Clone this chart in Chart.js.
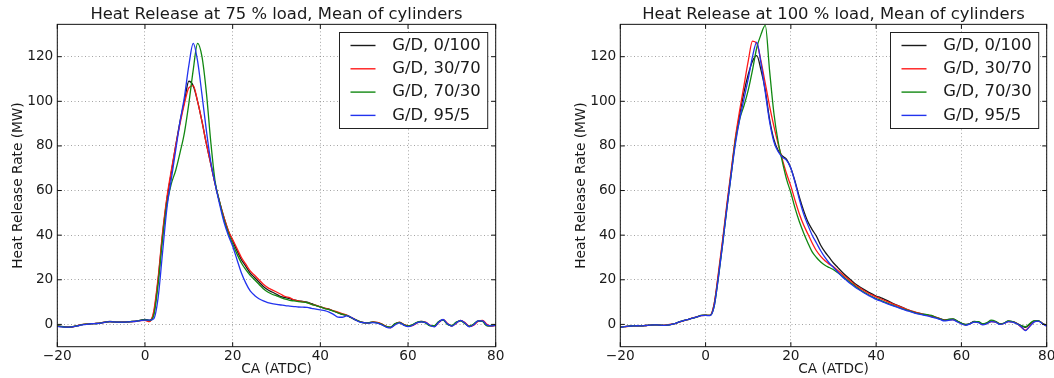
<!DOCTYPE html>
<html><head><meta charset="utf-8">
<script src="https://cdn.jsdelivr.net/npm/chart.js@4"></script>
<style>
html,body{margin:0;padding:0;background:#fff;overflow:hidden;width:1054px;height:378px;position:relative;}
.c{position:absolute;top:0;height:378px;}
#w1{left:0;width:520px;}
#w2{left:563px;width:500px;}
canvas{display:block;}
</style></head><body>
<div class="c" id="w1"><canvas id="c1" width="520" height="378"></canvas></div>
<div class="c" id="w2"><canvas id="c2" width="500" height="378"></canvas></div>
<script>
// Crank angle (degrees ATDC)
const crankAngle = [-20,-19,-18,-17,-16,-15,-14,-13,-12,-11,-10,-9,-8,-7,-6,-5,-4,-3,-2,-1,
  0,1,2,3,4,5,6,7,8,9,10,11,12,13,14,15,16,17,18,19,20,21,22,23,24,25,26,27,28,29,30,
  31,32,33,34,35,36,37,38,39,40,41,42,43,44,45,46,47,48,49,50,
  51,52,53,54,55,56,57,58,59,60,61,62,63,64,65,66,67,68,69,70,71,72,73,74,75,76,77,78,79,80];

const seriesLabels = ['G/D, 0/100','G/D, 30/70','G/D, 70/30','G/D, 95/5'];
const seriesColors = ['#1a1a1a','#ff1a1a','#118811','#2233ee'];
const xTicks = [-20,0,20,40,60,80];
const yTicks = [0,20,40,60,80,100,120];
const titles = ['Heat Release at 75 % load, Mean of cylinders','Heat Release at 100 % load, Mean of cylinders'];

// 75 % load (MW)
const load75_GD0_100 = [-0.7,-0.9,-1.1,-1.2,-0.9,-0.4,0,0.1,0.3,0.4,0.7,1.1,1.3,1.1,1.0,1.0,1.1,1.3,1.5,1.9,2.2,1.8,
  5,20,40,56,68,80,91,100,109,107,
  100,91,81,72,63,55,48,42,37.5,33,29,26,23,21,19,17,15.5,14.5,13.5,
  12.5,12,11.5,11,10.5,10.3,10,9.3,8.5,7.8,7.2,6.8,6,5.3,4.5,4,3,2,1.2,0.7,
  0.8,1.0,0.8,0,-1,-1.3,0.3,0.8,-0.2,-0.8,-0.3,0.8,1.2,0.8,-0.5,-0.8,1.2,2,0.2,-0.6,0.8,1.7,0.5,-0.9,0,1.5,1.5,-0.5,-0.6,-0.3];
const load75_GD30_70 = [-0.8,-1.0,-1.1,-1.1,-0.8,-0.3,0,0.2,0.3,0.5,0.7,1.0,1.2,1.1,1.0,1.1,1.1,1.2,1.4,1.7,1.8,1.2,
  6,21,41,57,69,80,90,99,106,107,
  100,91,81,72,63,55,48,42,38,34,30,27,24,22,20,18,16.5,15.5,14.5,
  13.5,12.5,12,11,10.5,10.2,9.8,9,8.5,7.8,7.3,6.7,6.1,5.5,4.8,4.2,3.2,2.2,1.3,0.8,
  0.6,1.1,0.9,0.2,-0.8,-1.5,0,1,0,-0.6,-0.5,0.6,1.3,1,-0.3,-1,0.8,2.1,0.5,-0.7,0.5,1.8,0.8,-0.8,-0.3,1.3,1.8,0,-0.8,-0.4];
const load75_GD70_30 = [-0.7,-1.0,-1.2,-1.1,-0.8,-0.4,0,0.1,0.3,0.4,0.7,1.0,1.2,1.1,1.0,1.0,1.1,1.3,1.5,1.8,2.1,1.7,
  4,18,38,54,63,69,77,86,99,114,
  126,120,104,82,64,55,47,41,36,31.5,27.5,24.5,22,20,18,16,14.5,13.5,12.8,
  12,11.3,10.8,10.5,10.2,10,9.7,9,8.4,7.8,7.1,6.6,5.9,5.2,4.6,4.1,3.1,2.1,1.3,0.7,
  0.7,1.0,0.7,0.1,-0.9,-1.2,0.2,0.9,-0.1,-0.7,-0.2,0.9,1.3,0.7,-0.6,-0.6,1.3,1.9,0,-0.5,1.0,1.6,0.3,-0.8,0.2,1.6,1.3,-0.6,-0.5,-0.2];
const load75_GD95_5 = [-0.9,-1.1,-1.2,-1.2,-0.9,-0.5,-0.1,0.1,0.3,0.4,0.6,1.0,1.2,1.1,1.0,1.0,1.1,1.2,1.4,1.7,1.9,1.9,
  2.5,12,32,52,65,78,91,102,116,126,
  118,103,87,73,63,54,46,40,35,29,23,18.5,15,13,11.5,10.5,9.8,9.3,9,
  8.7,8.4,8.2,8,7.8,7.7,7.6,7.2,6.8,6.5,6.2,5.5,4.5,3.3,3.2,3.8,3.2,2,1,0.8,
  0.6,0.8,0.6,-0.2,-1.2,-1.6,-0.3,0.7,-0.3,-1,-0.5,0.7,1.1,0.9,-0.4,-1.1,1,2.2,0.3,-0.8,0.6,1.8,0.6,-1.1,-0.2,1.6,1.6,-0.3,-0.7,-0.4];

// 100 % load (MW)
const load100_GD0_100 = [-1.2,-1.0,-0.8,-0.6,-0.6,-0.7,-0.5,-0.3,-0.2,-0.3,-0.4,-0.3,0,0.5,1.2,1.8,2.3,2.8,3.4,4.0,4.1,4.0,
  9,22,37,53,68,83,94,104,112,118,
  120.5,114,105,92,83,78,75.5,74,70,64,57,51,46,42.5,39.5,35.5,32.5,30,27.5,
  25.5,23.5,21.7,20,18.3,17,15.8,14.7,13.7,12.7,12,11.2,10.3,9.3,8.5,7.7,6.9,6.1,5.5,5.0,
  4.6,4.2,3.7,3.1,2.5,2.0,2.2,2.3,1.5,0.5,0,0.4,1.3,1.0,0.2,0.6,1.5,1.2,0.3,0.5,1.4,1.2,0.5,-0.5,-1.3,0,1.5,1.6,0.4,-0.6];
const load100_GD30_70 = [-1.2,-1.0,-0.9,-0.7,-0.6,-0.6,-0.5,-0.3,-0.2,-0.3,-0.4,-0.2,0.1,0.5,1.1,1.7,2.3,2.9,3.4,3.9,4.1,4.0,
  9,23,38,54,69,84,96,107,118,127,
  126,118,108,98,89,81,74,67.5,62,55.5,49.5,44.5,40.5,36.5,33,30.5,28.5,27,25.8,
  24.2,22.6,21,19.4,17.8,16.5,15.3,14.2,13.2,12.3,11.5,10.7,9.9,9.1,8.4,7.6,6.9,6.2,5.6,5.0,
  4.5,4.1,3.8,3.3,2.6,1.9,2.0,2.2,1.4,0.4,-0.2,0.3,1.1,0.9,0,0.5,1.3,1.1,0.2,0.5,1.3,1.1,0.4,-1.2,-2.6,-0.8,1.2,1.6,0.5,-0.6];
const load100_GD70_30 = [-1.2,-1.0,-0.8,-0.6,-0.6,-0.7,-0.5,-0.3,-0.2,-0.3,-0.4,-0.3,0,0.5,1.2,1.8,2.3,2.8,3.4,4.0,4.1,4.0,
  8,21,36,52,67,82,92,98,105,114,
  124,130,134,114,95,82,73,65,59,52,46,41,36.5,32.5,30,28,26.5,25.5,24.5,
  23.2,21.8,20.2,18.7,17.2,15.8,14.6,13.5,12.5,11.6,10.8,10,9.2,8.5,7.8,7.1,6.5,5.9,5.3,4.8,
  4.5,4.4,4.0,3.2,2.5,1.8,2.2,2.5,1.6,0.6,-0.1,0.4,1.2,1.2,0.2,0.8,1.9,1.4,0.2,0.6,1.6,1.3,0.3,-0.6,-1.0,0.3,1.6,1.7,0.5,-0.5];
const load100_GD95_5 = [-1.3,-1.0,-0.8,-0.7,-0.6,-0.7,-0.5,-0.3,-0.2,-0.3,-0.4,-0.3,0,0.5,1.2,1.8,2.3,2.8,3.4,3.9,4.0,3.9,
  8,21,36,52,67,81,92,101,110,120,
  126.5,117,104,91,82,77.5,75,73.5,70,63.5,56,49.5,44.5,40,36.5,33,30,27.5,25.5,
  23.5,21.5,19.8,18.2,16.8,15.5,14.3,13.2,12.2,11.2,10.5,9.7,9,8.3,7.6,7,6.3,5.7,5.1,4.6,
  4.2,3.8,3.3,2.8,2.2,1.6,1.8,2.0,1.2,0.2,-0.4,0.2,1.0,0.8,-0.2,0.3,1.2,1.0,0,0.4,1.2,1.0,0.3,-1.0,-2.8,-1.0,1.0,1.5,0.3,-0.8];

const FONT = 'DejaVu Sans';
const TXT = '#1a1a1a';
const fmt = v => v < 0 ? '\u2212' + Math.abs(v) : String(v);

const framePlugin = {
  id: 'frame',
  afterDatasetsDraw(chart) {
    const ctx = chart.ctx, a = chart.chartArea;
    const xs = chart.scales.x, ys = chart.scales.y;
    ctx.save();
    ctx.strokeStyle = '#111';
    ctx.lineWidth = 1;
    ctx.strokeRect(a.left, a.top, a.right - a.left, a.bottom - a.top);
    const L = 4.5;
    ctx.beginPath();
    xTicks.forEach(v => {
      const p = xs.getPixelForValue(v);
      ctx.moveTo(p, a.bottom); ctx.lineTo(p, a.bottom - L);
      ctx.moveTo(p, a.top); ctx.lineTo(p, a.top + L);
    });
    yTicks.forEach(v => {
      const p = ys.getPixelForValue(v);
      ctx.moveTo(a.left, p); ctx.lineTo(a.left + L, p);
      ctx.moveTo(a.right, p); ctx.lineTo(a.right - L, p);
    });
    ctx.stroke();
    ctx.restore();
  }
};

const legendPlugin = {
  id: 'legendBox',
  afterDatasetsDraw(chart) {
    const ctx = chart.ctx, a = chart.chartArea;
    const ds = chart.data.datasets;
    ctx.save();
    ctx.font = '16.4px "' + FONT + '"';
    const tw = Math.max(...ds.map(d => ctx.measureText(d.label).width));
    const w = 52.7 + tw + 7, h = 96;
    const x0 = Math.round(a.right - 9 - w) + 0.5, y0 = Math.round(a.top + 7.7) + 0.5;
    ctx.fillStyle = '#fff';
    ctx.fillRect(x0, y0, w, h);
    ctx.strokeStyle = '#222';
    ctx.lineWidth = 1;
    ctx.strokeRect(x0, y0, w, h);
    ds.forEach((d, i) => {
      const y = y0 + 13 + i * 23.3;
      ctx.strokeStyle = d.borderColor;
      ctx.lineWidth = 1.4;
      ctx.beginPath(); ctx.moveTo(x0 + 11, y); ctx.lineTo(x0 + 36, y); ctx.stroke();
      ctx.fillStyle = TXT;
      ctx.textBaseline = 'middle';
      ctx.textAlign = 'left';
      ctx.fillText(d.label, x0 + 52.7, y);
    });
    ctx.restore();
  }
};

function makeChart(id, title, seriesList, padRight) {
  return new Chart(document.getElementById(id), {
    type: 'line',
    data: {
      datasets: seriesList.map((vals, k) => ({
        label: seriesLabels[k],
        data: crankAngle.map((x, i) => ({x: x, y: vals[i]})),
        borderColor: seriesColors[k],
        borderWidth: 1.3,
        pointRadius: 0,
        fill: false,
        cubicInterpolationMode: 'monotone',
        order: 4 - k
      }))
    },
    options: {
      responsive: false,
      animation: false,
      layout: {padding: {left: 0, right: padRight, top: 0, bottom: 0}},
      plugins: {
        legend: {display: false},
        tooltip: {enabled: false},
        title: {
          display: true, text: title, fullSize: false, color: TXT,
          font: {family: FONT, size: 16.4, weight: 'normal', lineHeight: 1.1},
          padding: {top: 6, bottom: 0.3}
        }
      },
      scales: {
        x: {
          type: 'linear', min: -20, max: 80,
          afterBuildTicks: s => { s.ticks = xTicks.map(v => ({value: v})); },
          afterFit: s => { s.height = 31.3; },
          ticks: {padding: 2, color: TXT, font: {family: FONT, size: 13.7}, maxRotation: 0, autoSkip: false, callback: v => fmt(v)},
          grid: {color: 'rgba(0,0,0,0.45)', lineWidth: 0.8, drawTicks: false},
          border: {display: false, dash: [1, 2.5]},
          title: {display: true, text: 'CA (ATDC)', color: TXT, font: {family: FONT, size: 13.7}, padding: {top: 0, bottom: 0}}
        },
        y: {
          min: -10, max: 134.5,
          afterBuildTicks: s => { s.ticks = yTicks.map(v => ({value: v})); },
          afterFit: s => { s.width = 57.3; },
          ticks: {padding: 4, color: TXT, font: {family: FONT, size: 13.7}, autoSkip: false, callback: v => fmt(v)},
          grid: {color: 'rgba(0,0,0,0.45)', lineWidth: 0.8, drawTicks: false},
          border: {display: false, dash: [1, 2.5]},
          title: {display: true, text: 'Heat Release Rate (MW)', color: TXT, font: {family: FONT, size: 13.7}, padding: {top: 10.1, bottom: 0}}
        }
      }
    },
    plugins: [framePlugin, legendPlugin]
  });
}

makeChart('c1', titles[0], [load75_GD0_100, load75_GD30_70, load75_GD70_30, load75_GD95_5], 24.3);
makeChart('c2', titles[1], [load100_GD0_100, load100_GD30_70, load100_GD70_30, load100_GD95_5], 16.3);
</script>
</body></html>
